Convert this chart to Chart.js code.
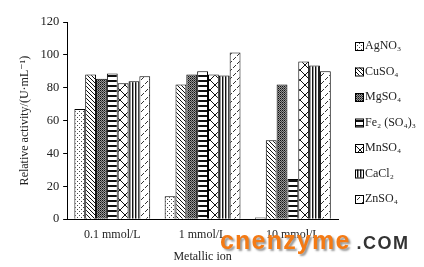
<!DOCTYPE html>
<html>
<head>
<meta charset="utf-8">
<script src="https://cdn.jsdelivr.net/npm/chart.js@4"></script>
<style>
  body { margin: 0; background: #fff; }
  #wrap { position: relative; width: 424px; height: 267px; }
  #mark { position: absolute; left: 220px; top: 226px; white-space: nowrap; font-family: "Liberation Sans", Arial, sans-serif; font-weight: bold; }
  #mark .cn { color: #f47a14; font-size: 25px; letter-spacing: 1.2px; text-shadow: 2px 2px 2px #999; }
  #mark .com { color: #333; font-size: 18px; letter-spacing: 1.5px; margin-left: 6px; }
</style>
</head>
<body>
<div id="wrap">
  <canvas id="chart" width="424" height="267"></canvas>
  <div id="mark"><span class="cn">cnenzyme</span><span class="com">.COM</span></div>
</div>
<script>
const categories = ['0.1 mmol/L', '1 mmol/L', '10 mmol/L'];
const ions = ['AgNO₃', 'CuSO₄', 'MgSO₄', 'Fe₂ (SO₄)₃', 'MnSO₄', 'CaCl₂', 'ZnSO₄'];
const agno3 = [67, 14, 1];
const cuso4 = [88, 82, 48];
const mgso4 = [85.5, 88, 82];
const fe2so43 = [88.7, 90, 24.5];
const mnso4 = [82.8, 88, 96];
const cacl2 = [84, 87.5, 93.5];
const znso4 = [87, 101.5, 90];
const yTicks = [0, 20, 40, 60, 80, 100, 120];

const serif = "'Liberation Serif', 'DejaVu Serif', serif";

function makePattern(w, h, draw) {
  const c = document.createElement('canvas');
  c.width = w; c.height = h;
  const g = c.getContext('2d');
  g.fillStyle = '#fff';
  g.fillRect(0, 0, w, h);
  draw(g);
  return document.getElementById('chart').getContext('2d').createPattern(c, 'repeat');
}
function px(g, x, y, col) { g.fillStyle = col; g.fillRect(x, y, 1, 1); }

// fills for each salt
const fills = [
  makePattern(4, 4, g => { px(g, 1, 1, '#444'); px(g, 3, 3, '#444'); }),
  makePattern(4, 4, g => { for (let i = 0; i < 4; i++) px(g, i, i, '#111'); }),
  makePattern(2, 2, g => { g.fillStyle = '#999'; g.fillRect(0, 0, 2, 2); px(g, 0, 0, '#111'); px(g, 1, 1, '#444'); }),
  makePattern(5, 5, g => { g.fillStyle = '#111'; g.fillRect(0, 0, 5, 2); }),
  makePattern(10, 10, g => {
    g.strokeStyle = '#111'; g.lineWidth = 1;
    g.beginPath(); g.moveTo(0, 0); g.lineTo(10, 10); g.moveTo(10, 0); g.lineTo(0, 10); g.stroke();
  }),
  makePattern(3, 3, g => { g.fillStyle = '#111'; g.fillRect(0, 0, 1, 3); g.fillStyle = '#999'; g.fillRect(1, 0, 1, 3); }),
  makePattern(8, 8, g => {
    px(g, 1, 3, '#333'); px(g, 2, 2, '#333'); px(g, 3, 1, '#333');
    px(g, 5, 7, '#333'); px(g, 6, 6, '#333'); px(g, 7, 5, '#333');
  })
];

const series = [agno3, cuso4, mgso4, fe2so43, mnso4, cacl2, znso4];

// legend drawn at the right like the original figure
const sideLegend = {
  id: 'sideLegend',
  afterDraw(chart) {
    const ctx = chart.ctx;
    ctx.save();
    ctx.font = '12px ' + serif;
    ctx.textBaseline = 'middle';
    chart.data.datasets.forEach((ds, i) => {
      const y = 46 + i * 25.5;
      ctx.fillStyle = ds.backgroundColor;
      ctx.fillRect(355, y - 4, 8, 8);
      ctx.strokeStyle = '#000';
      ctx.lineWidth = 1;
      ctx.strokeRect(355.5, y - 3.5, 8, 8);
      ctx.fillStyle = '#222';
      ctx.fillText(ds.label, 365, y);
    });
    ctx.restore();
  }
};

new Chart(document.getElementById('chart'), {
  type: 'bar',
  data: {
    labels: categories,
    datasets: series.map((vals, i) => ({
      label: ions[i],
      data: vals,
      backgroundColor: fills[i],
      borderColor: '#000',
      borderWidth: 1,
      barPercentage: 1,
      categoryPercentage: 0.84
    }))
  },
  options: {
    responsive: false,
    animation: false,
    layout: { padding: { left: 14, right: 86, top: 22, bottom: 0 } },
    plugins: {
      legend: { display: false },
      tooltip: { enabled: false }
    },
    scales: {
      x: {
        grid: { display: false, drawTicks: false },
        border: { display: true, color: '#000', width: 1 },
        ticks: { color: '#222', font: { family: serif, size: 12 }, padding: 8 },
        title: { display: true, text: 'Metallic ion', color: '#222', font: { family: serif, size: 12 }, padding: { top: 0, bottom: 3 } }
      },
      y: {
        min: 0,
        max: 120,
        afterBuildTicks: axis => { axis.ticks = yTicks.map(v => ({ value: v })); },
        grid: { drawOnChartArea: false, drawTicks: true, tickLength: 4, color: '#000' },
        border: { display: true, color: '#000', width: 1 },
        ticks: { color: '#222', font: { family: serif, size: 12.5 }, padding: 4 },
        title: { display: true, text: 'Relative activity/(U·mL⁻¹)', color: '#222', font: { family: serif, size: 12 }, padding: { top: 4, bottom: 4 } }
      }
    }
  },
  plugins: [sideLegend]
});
</script>
</body>
</html>
